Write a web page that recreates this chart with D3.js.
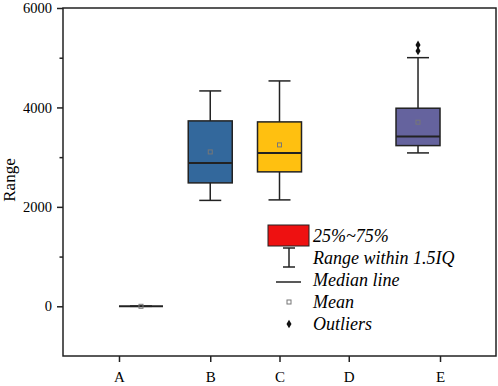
<!DOCTYPE html>
<html>
<head>
<meta charset="utf-8">
<script src="https://cdn.jsdelivr.net/npm/d3@7"></script>
<style>
  body { margin: 0; background: #fff; }
  svg { display: block; }
</style>
</head>
<body>
<div id="box_chart"></div>
<script>
// values
var categories = ["A", "B", "C", "D", "E"];
var whiskerLow = [0, 2130, 2140, null, 3085];
var q1 = [0, 2482, 2704, null, 3232];
var medians = [0, 2884, 3085, null, 3413];
var q3 = [0, 3729, 3709, null, 3984];
var whiskerHigh = [0, 4332, 4533, null, 5001];
var means = [0, 3105, 3246, null, 3703];
var outliers = [[], [], [], [], [5136, 5256]];
var boxColours = ["#ffffff", "#33689c", "#ffc010", "#ffffff", "#65639e"];
var yTicks = [0, 2000, 4000, 6000];
var yMinorTicks = [1000, 3000, 5000];
var legendLabels = ["25%~75%", "Range within 1.5IQ", "Median line", "Mean", "Outliers"];

function drawBoxChart() {
    var margin = {top: 8, right: 2, bottom: 30, left: 63},
        width = 498 - margin.left - margin.right,
        height = 386 - margin.top - margin.bottom;

    var svg = d3.select("#box_chart")
      .append("svg")
        .attr("width", 498)
        .attr("height", 386)
      .append("g")
        .attr("transform", "translate(" + margin.left + "," + margin.top + ")");

    var font = "'Liberation Serif', 'Times New Roman', serif";
    var boxWidth = 44;

    // scales
    var x = d3.scalePoint()
      .domain(categories)
      .range([0, width])
      .padding(1.126);
    var y = d3.scaleLinear()
      .domain([-1000, 6000])
      .range([height, 0]);

    // tick positions: the end ticks sit on the outer box edges
    var xTick = d3.scaleOrdinal()
      .domain(categories)
      .range(categories.map(function (c, i) {
          if (i == 0) return x(c) - boxWidth / 2;
          if (i == categories.length - 1) return x(c) + boxWidth / 2;
          return x(c);
      }));

    // X axis
    var xAxis = svg.append("g")
      .attr("transform", "translate(0," + height + ")")
      .call(d3.axisBottom(xTick).tickSize(6).tickPadding(9));
    xAxis.select(".domain").remove();
    xAxis.selectAll("line").attr("stroke", "#222").attr("stroke-width", 1.5);
    xAxis.selectAll("text")
      .attr("font-family", font)
      .attr("font-size", 15)
      .attr("fill", "#000");

    // Y axis
    var yAxis = svg.append("g")
      .call(d3.axisLeft(y).tickValues(yTicks).tickSize(6).tickPadding(5).tickFormat(d3.format("d")));
    yAxis.select(".domain").remove();
    yAxis.selectAll("line").attr("stroke", "#222").attr("stroke-width", 1.5);
    yAxis.selectAll("text")
      .attr("font-family", font)
      .attr("font-size", 14.5)
      .attr("fill", "#000");
    var yMinor = svg.append("g")
      .call(d3.axisLeft(y).tickValues(yMinorTicks).tickSize(3.5).tickFormat(""));
    yMinor.select(".domain").remove();
    yMinor.selectAll("line").attr("stroke", "#222").attr("stroke-width", 1.5);

    // Y axis title
    svg.append("text")
      .attr("transform", "rotate(-90)")
      .attr("x", -(height / 2) + 2)
      .attr("y", -margin.left + 15)
      .attr("text-anchor", "middle")
      .attr("font-family", font)
      .attr("font-size", 17)
      .text("Range");

    // frame
    svg.append("rect")
      .attr("x", 0)
      .attr("y", 0)
      .attr("width", width)
      .attr("height", height)
      .attr("fill", "none")
      .attr("stroke", "#222")
      .attr("stroke-width", 1.5);

    // boxes
    var data = [];
    for (var i = 0; i < categories.length; i++) {
        if (q1[i] === null) continue;
        data.push({name: categories[i], lo: whiskerLow[i], q1: q1[i], med: medians[i],
                   q3: q3[i], hi: whiskerHigh[i], mean: means[i], out: outliers[i], colour: boxColours[i]});
    }

    var boxes = svg.append("g")
      .selectAll("g")
      .data(data)
      .enter()
      .append("g");

    // whiskers
    boxes.append("line")
      .attr("x1", function (d) { return x(d.name); })
      .attr("x2", function (d) { return x(d.name); })
      .attr("y1", function (d) { return y(d.hi); })
      .attr("y2", function (d) { return y(d.lo); })
      .attr("stroke", "#222")
      .attr("stroke-width", 1.5);
    boxes.selectAll(".cap")
      .data(function (d) { return [{name: d.name, v: d.lo}, {name: d.name, v: d.hi}]; })
      .enter()
      .append("line")
        .attr("class", "cap")
        .attr("x1", function (d) { return x(d.name) - boxWidth / 4; })
        .attr("x2", function (d) { return x(d.name) + boxWidth / 4; })
        .attr("y1", function (d) { return y(d.v); })
        .attr("y2", function (d) { return y(d.v); })
        .attr("stroke", "#222")
        .attr("stroke-width", 1.5);

    boxes.append("rect")
      .attr("x", function (d) { return x(d.name) - boxWidth / 2; })
      .attr("y", function (d) { return y(d.q3); })
      .attr("width", boxWidth)
      .attr("height", function (d) { return y(d.q1) - y(d.q3); })
      .attr("fill", function (d) { return d.colour; })
      .attr("stroke", "#222")
      .attr("stroke-width", 1.5);

    boxes.append("line")
      .attr("x1", function (d) { return x(d.name) - boxWidth / 2; })
      .attr("x2", function (d) { return x(d.name) + boxWidth / 2; })
      .attr("y1", function (d) { return y(d.med); })
      .attr("y2", function (d) { return y(d.med); })
      .attr("stroke", "#222")
      .attr("stroke-width", 2);

    // mean markers
    boxes.append("rect")
      .attr("x", function (d) { return x(d.name) - 2; })
      .attr("y", function (d) { return y(d.mean) - 2; })
      .attr("width", 4)
      .attr("height", 4)
      .attr("fill", "none")
      .attr("stroke", "#777")
      .attr("stroke-width", 1);

    // outliers
    var diamond = d3.symbol().type(d3.symbolDiamond).size(22);
    boxes.selectAll(".outlier")
      .data(function (d) { return d.out.map(function (v) { return {name: d.name, v: v}; }); })
      .enter()
      .append("path")
        .attr("class", "outlier")
        .attr("d", diamond)
        .attr("transform", function (d) { return "translate(" + x(d.name) + "," + y(d.v) + ")"; })
        .attr("fill", "#111");

    // legend
    var legend = svg.append("g")
      .attr("transform", "translate(205,217)");
    legend.append("rect")
      .attr("x", 0).attr("y", 0)
      .attr("width", 41).attr("height", 21)
      .attr("fill", "#ee1111")
      .attr("stroke", "#222")
      .attr("stroke-width", 1);
    legend.append("line")
      .attr("x1", 21).attr("x2", 21).attr("y1", 23).attr("y2", 42)
      .attr("stroke", "#222").attr("stroke-width", 1.5);
    legend.append("line")
      .attr("x1", 15).attr("x2", 27).attr("y1", 23).attr("y2", 23)
      .attr("stroke", "#222").attr("stroke-width", 1.5);
    legend.append("line")
      .attr("x1", 15).attr("x2", 27).attr("y1", 42).attr("y2", 42)
      .attr("stroke", "#222").attr("stroke-width", 1.5);
    legend.append("line")
      .attr("x1", 8).attr("x2", 33).attr("y1", 57).attr("y2", 57)
      .attr("stroke", "#222").attr("stroke-width", 1.5);
    legend.append("rect")
      .attr("x", 19).attr("y", 75).attr("width", 4).attr("height", 4)
      .attr("fill", "none").attr("stroke", "#777").attr("stroke-width", 1);
    legend.append("path")
      .attr("d", diamond)
      .attr("transform", "translate(21,99)")
      .attr("fill", "#111");

    legend.selectAll(".label")
      .data(legendLabels)
      .enter()
      .append("text")
        .attr("class", "label")
        .attr("x", 45)
        .attr("y", function (d, i) { return 17 + i * 22; })
        .attr("font-family", font)
        .attr("font-style", "italic")
        .attr("font-size", 18)
        .text(function (d) { return d; });
}

drawBoxChart();
</script>
</body>
</html>
